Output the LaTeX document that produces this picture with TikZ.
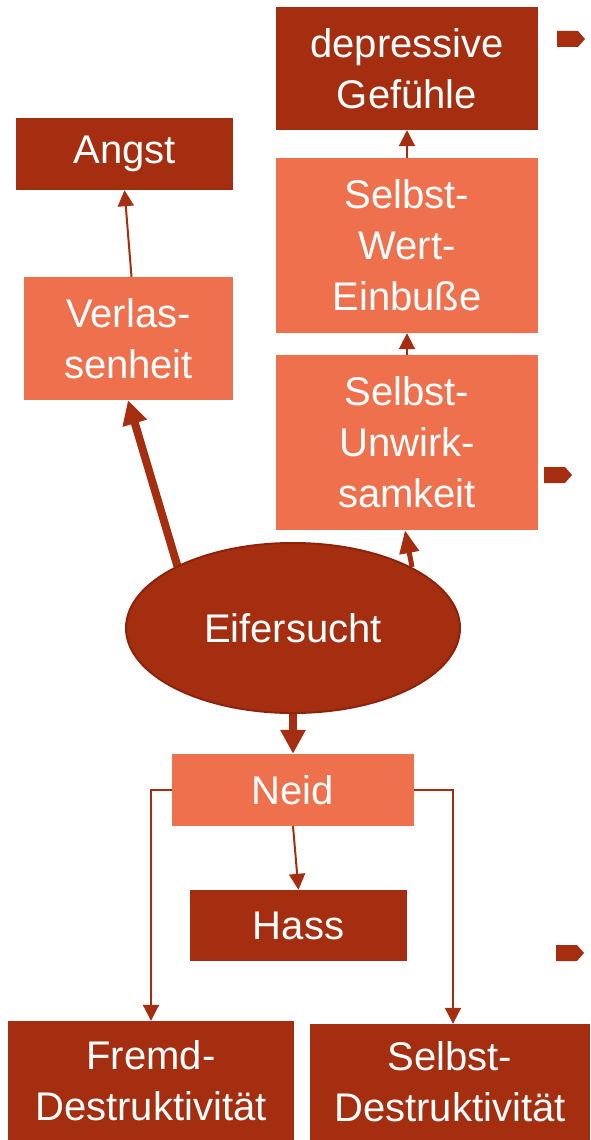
\documentclass[tikz,border=0pt]{standalone}
\usepackage{fontspec}
\setmainfont{Liberation Sans}
\usetikzlibrary{arrows.meta,shapes.geometric}

\definecolor{rust}{RGB}{165,46,16}
\definecolor{rustedge}{RGB}{140,36,12}
\definecolor{salmon}{RGB}{239,112,77}

\tikzset{
  darkbox/.style={rectangle, fill=rust, text=white, align=center, inner sep=0pt},
  lightbox/.style={rectangle, fill=salmon, text=white, align=center, inner sep=0pt},
  thin arrow/.style={draw=rust, line width=2pt, -{Triangle[width=16pt,length=16pt]}},
  fat arrow/.style={draw=rust, line width=#1, -{Triangle[width=24pt,length=24pt]}},
  fat arrow/.default=8pt,
}

\begin{document}
\begin{tikzpicture}[x=1pt, y=-1pt, font=\fontsize{40}{51}\selectfont]

      \useasboundingbox (0,0) rectangle (590,1140);

      % upper right column
      \node[darkbox, minimum width=262pt, minimum height=123pt] at (407,68.5) (dep) {depressive\\Gef\"uhle};
      \node[lightbox, minimum width=262pt, minimum height=175pt] at (407,245.5) (wert) {Selbst-\\Wert-\\Einbu\ss e};
      \node[lightbox, minimum width=262pt, minimum height=175pt] at (407,442.5) (unw) {Selbst-\\Unwirk-\\samkeit};

      % upper left column
      \node[darkbox, minimum width=217pt, minimum height=72pt] at (124.5,154) (angst) {Angst};
      \node[lightbox, minimum width=209pt, minimum height=123pt] at (128.5,338.5) (verl) {Verlas-\\senheit};

      % arrows that start inside the ellipse, drawn first
      \coordinate (eifc) at (293,628);
      \draw[fat arrow] ([xshift=-115pt,yshift=60pt] eifc) -- ([xshift=-0.5pt] verl.south);
      \draw[fat arrow=5pt, -{Triangle[width=19pt,length=23pt]}] ([xshift=119pt,yshift=61pt] eifc) -- ([xshift=-2pt] unw.south);

      % centre
      \node[ellipse, fill=rust, draw=rustedge, line width=2pt, text=white,
            minimum width=334pt, minimum height=170pt] at (eifc) (eif) {Eifersucht};
      \node[lightbox, minimum width=242pt, minimum height=72pt] at (293,790) (neid) {Neid};
      \node[darkbox, minimum width=217pt, minimum height=71pt] at (298.5,925.5) (hass) {Hass};

      % bottom row
      \node[darkbox, minimum width=286pt, minimum height=119pt] at (151,1080.5) (fremd) {Fremd-\\Destruktivit\"at};
      \node[darkbox, minimum width=280pt, minimum height=116pt] at (450,1082) (sdes) {Selbst-\\Destruktivit\"at};

      % connectors
      \draw[thin arrow] (wert.north) -- (dep.south);
      \draw[thin arrow] (unw.north) -- (wert.south);
      \draw[thin arrow] ([xshift=3pt] verl.north) -- ([xshift=0pt] angst.south);
      \draw[fat arrow] (eif.south) -- (neid.north);
      \draw[thin arrow] (neid.south) -- ([xshift=0pt] hass.north);
      \draw[thin arrow] (neid.west) -| (fremd.north);
      \draw[thin arrow] (neid.east) -| ([xshift=3pt] sdes.north);

      % pointers at the right margin
      \foreach \px/\py in {557/39, 544/475, 556/953}
        \fill[rust] (\px,\py-8) -- ++(21,0) -- ++(7,8) -- ++(-7,8) -- ++(-21,0) -- cycle;
    \end{tikzpicture}
\end{document}
